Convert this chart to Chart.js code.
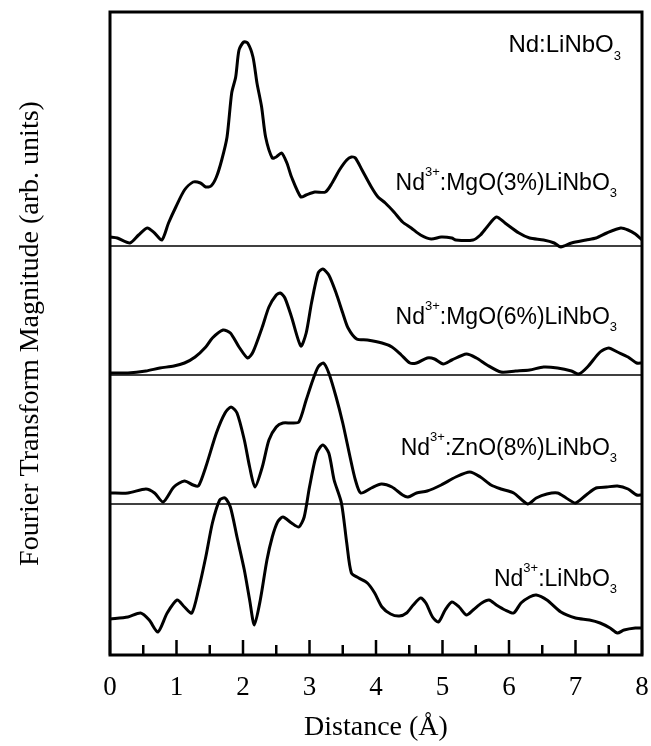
<!DOCTYPE html>
<html>
<head>
<meta charset="utf-8">
<script src="https://cdn.jsdelivr.net/npm/chart.js@4.4.1/dist/chart.umd.min.js"></script>
<style>
  html, body { margin: 0; padding: 0; background: #fff; }
</style>
</head>
<body>
<canvas id="chartFT" width="651" height="746"></canvas>
<script>

// =====================================================
// DATA  (distance in Å, magnitude in arb. units)
// =====================================================

const mgo3 = [[0,9],[0.11,8],[0.30,3],[0.43,11],[0.56,18],[0.67,13],[0.78,6],[0.88,23],[0.99,39],[1.12,56],
  [1.25,64],[1.36,63],[1.44,59],[1.52,60],[1.60,69],[1.68,86],[1.76,109],[1.83,153],[1.89,169],[1.94,196],
  [2.01,204],[2.07,203],[2.15,189],[2.21,163],[2.28,139],[2.34,109],[2.44,88],[2.50,89],[2.58,93],[2.66,83],
  [2.73,69],[2.87,49],[2.95,51],[3.08,54],[3.24,54],[3.34,63],[3.45,76],[3.56,86],[3.63,89],[3.69,88],
  [3.79,76],[3.93,59],[4.03,49],[4.14,43],[4.27,34],[4.40,24],[4.53,18],[4.67,11],[4.83,7],[4.98,9],
  [5.14,8],[5.20,6],[5.46,6],[5.57,11],[5.67,19],[5.81,29],[5.94,23],[6.15,13],[6.31,8],[6.52,6],
  [6.68,3],[6.78,-1],[6.94,3],[7.16,6],[7.31,8],[7.47,13],[7.68,18],[7.79,16],[7.90,12],[8.00,6]]

const mgo6 = [[0,2],[0.27,2],[0.54,4],[0.75,7],[0.96,9],[1.12,12],[1.28,18],[1.44,28],[1.54,37],[1.70,45],
  [1.81,42],[1.94,28],[2.07,17],[2.15,23],[2.29,48],[2.39,68],[2.50,80],[2.56,82],[2.63,77],[2.73,58],
  [2.87,29],[2.95,42],[3.03,72],[3.13,102],[3.20,106],[3.29,100],[3.40,82],[3.50,62],[3.58,47],[3.71,36],
  [3.87,35],[4.09,32],[4.24,28],[4.38,20],[4.51,12],[4.61,12],[4.77,17],[4.88,16],[5.01,11],[5.14,15],
  [5.36,21],[5.51,17],[5.67,10],[5.88,3],[6.10,4],[6.31,5],[6.52,8],[6.73,7],[6.94,4],[7.05,1],
  [7.18,8],[7.37,23],[7.50,27],[7.63,23],[7.79,18],[7.92,12],[8.00,12]]

const zno8 = [[0,11],[0.27,11],[0.54,15],[0.67,11],[0.80,2],[0.96,17],[1.12,23],[1.25,19],[1.33,18],[1.44,37],
  [1.60,71],[1.73,91],[1.82,97],[1.91,91],[2.02,64],[2.10,37],[2.18,17],[2.29,37],[2.39,64],[2.50,77],
  [2.60,81],[2.73,81],[2.84,82],[2.95,104],[3.05,124],[3.13,137],[3.21,141],[3.29,131],[3.40,107],[3.50,81],
  [3.61,47],[3.69,24],[3.77,11],[3.93,16],[4.08,20],[4.24,17],[4.40,9],[4.48,7],[4.61,11],[4.77,13],
  [4.98,19],[5.20,27],[5.41,32],[5.57,27],[5.73,19],[5.88,15],[6.07,11],[6.28,0],[6.41,6],[6.57,10],
  [6.73,11],[6.86,6],[7.00,1],[7.16,9],[7.31,16],[7.47,17],[7.63,18],[7.79,15],[7.92,9],[8.00,9]]

const pure = [[0,36],[0.27,38],[0.46,42],[0.59,35],[0.72,23],[0.86,42],[1.01,55],[1.12,48],[1.23,42],[1.33,65],
  [1.44,98],[1.54,132],[1.65,155],[1.73,157],[1.81,148],[1.91,118],[2.02,85],[2.10,55],[2.17,30],[2.26,55],
  [2.36,95],[2.44,118],[2.52,133],[2.60,138],[2.73,132],[2.84,128],[2.92,138],[3.00,168],[3.11,202],[3.20,210],
  [3.29,202],[3.37,175],[3.48,152],[3.56,112],[3.63,82],[3.74,77],[3.87,72],[3.98,62],[4.09,48],[4.22,41],
  [4.35,39],[4.46,42],[4.56,50],[4.67,57],[4.75,52],[4.85,38],[4.94,33],[5.04,45],[5.14,53],[5.25,48],
  [5.36,40],[5.46,45],[5.59,52],[5.70,55],[5.81,50],[5.94,45],[6.07,42],[6.18,52],[6.31,58],[6.41,60],
  [6.57,55],[6.78,43],[7.00,37],[7.21,35],[7.37,32],[7.52,27],[7.63,22],[7.73,25],[7.90,27],[8.00,27]]

// vertical offset of each trace (stacked panels), same arb. units
const series    = [mgo3, mgo6, zno8, pure]
const baselines = [409, 280, 151, 0]
const names     = ['Nd^{3+}:MgO(3%)LiNbO_{3}', 'Nd^{3+}:MgO(6%)LiNbO_{3}', 'Nd^{3+}:ZnO(8%)LiNbO_{3}', 'Nd^{3+}:LiNbO_{3}']
const nameLevel = [465, 331, 200, 69]
const heading   = 'Nd:LiNbO_{3}'

const xTicks = [0, 1, 2, 3, 4, 5, 6, 7, 8]

// =====================================================
// TEXTO CON SUB/SUPERÍNDICES
// =====================================================

function parts(s) {
  const out = []
  s.replace(/\^\{([^}]*)\}|_\{([^}]*)\}|([^^_]+)/g, (m, sup, sub, txt) => {
    if (sup) out.push({ t: sup, k: 'sup' })
    else if (sub) out.push({ t: sub, k: 'sub' })
    else out.push({ t: txt, k: 'n' })
  })
  return out
}

function drawRich(ctx, s, right, base, size) {
  const fam = '"Liberation Sans", Arial, sans-serif'
  const small = Math.round(size * 0.55)
  const ps = parts(s)
  const widthOf = p => {
    ctx.font = `${p.k === 'n' ? size : small}px ${fam}`
    return ctx.measureText(p.t).width
  }
  let x = right - ps.reduce((w, p) => w + widthOf(p), 0)
  ctx.textBaseline = 'alphabetic'
  ctx.textAlign = 'left'
  ps.forEach(p => {
    const w = widthOf(p)
    const dy = p.k === 'sup' ? -size * 0.62 : p.k === 'sub' ? size * 0.32 : 0
    ctx.fillText(p.t, x, base + dy)
    x += w
  })
}

// =====================================================
// PLUGIN: marco, ticks interiores, rótulos
// =====================================================

const marco = {
  id: 'marco',
  afterDatasetsDraw(chart) {
    const { ctx, chartArea: a, scales: { x, y } } = chart
    ctx.save()
    ctx.strokeStyle = '#000'
    ctx.fillStyle = '#000'

    ctx.lineWidth = 2.5
    x.ticks.forEach(t => {
      const px = x.getPixelForValue(t.value)
      const len = Number.isInteger(t.value) ? 15 : 10
      ctx.beginPath()
      ctx.moveTo(px, a.bottom)
      ctx.lineTo(px, a.bottom - len)
      ctx.stroke()
    })

    ctx.lineWidth = 3
    ctx.strokeRect(a.left, a.top, a.right - a.left, a.bottom - a.top)

    drawRich(ctx, heading, a.right - 21, y.getPixelForValue(603), 24)
    names.forEach((n, i) => drawRich(ctx, n, a.right - 25, y.getPixelForValue(nameLevel[i]), 23))
    ctx.restore()
  }
}

// =====================================================
// CHART
// =====================================================

const datasets = []

baselines.slice(0, 3).forEach(b => {
  datasets.push({
    data: [{ x: 0, y: b }, { x: 8, y: b }],
    borderColor: '#000',
    borderWidth: 1.5,
    pointRadius: 0,
    tension: 0
  })
})

series.forEach((s, i) => {
  datasets.push({
    data: s.map(([d, m]) => ({ x: d, y: m + baselines[i] })),
    borderColor: '#000',
    borderWidth: 3,
    pointRadius: 0,
    tension: 0.25,
    borderJoinStyle: 'round'
  })
})

const serif = '"Liberation Serif", "Times New Roman", serif'

new Chart(document.getElementById('chartFT').getContext('2d'), {
  type: 'line',
  data: { datasets },
  plugins: [marco],
  options: {
    responsive: false,
    devicePixelRatio: 1,
    animation: false,
    layout: { padding: { top: 12, right: 9, left: 0, bottom: 0 } },
    plugins: { legend: { display: false }, tooltip: { enabled: false } },
    scales: {
      x: {
        type: 'linear',
        min: 0,
        max: 8,
        afterBuildTicks: s => {
          s.ticks = []
          for (let v = 0; v <= 16; v++) s.ticks.push({ value: v / 2 })
        },
        afterFit: s => {
          s.height = 91
          s.paddingLeft = 0
          s.paddingRight = 0
        },
        ticks: {
          autoSkip: false,
          maxRotation: 0,
          padding: 17,
          color: '#000',
          font: { family: serif, size: 27 },
          callback: v => xTicks.includes(v) ? String(v) : ''
        },
        grid: { display: false, drawTicks: false },
        border: { display: false },
        title: {
          display: true,
          text: 'Distance (Å)',
          color: '#000',
          padding: { top: 0, bottom: 2 },
          font: { family: serif, size: 28 }
        }
      },
      y: {
        min: 0,
        max: 643,
        afterFit: s => { s.width = 110 },
        ticks: { display: false },
        grid: { display: false },
        border: { display: false },
        title: {
          display: true,
          text: 'Fourier Transform Magnitude (arb. units)',
          color: '#000',
          padding: { top: 14, bottom: 0 },
          font: { family: serif, size: 28 }
        }
      }
    }
  }
})
</script>
</body>
</html>
